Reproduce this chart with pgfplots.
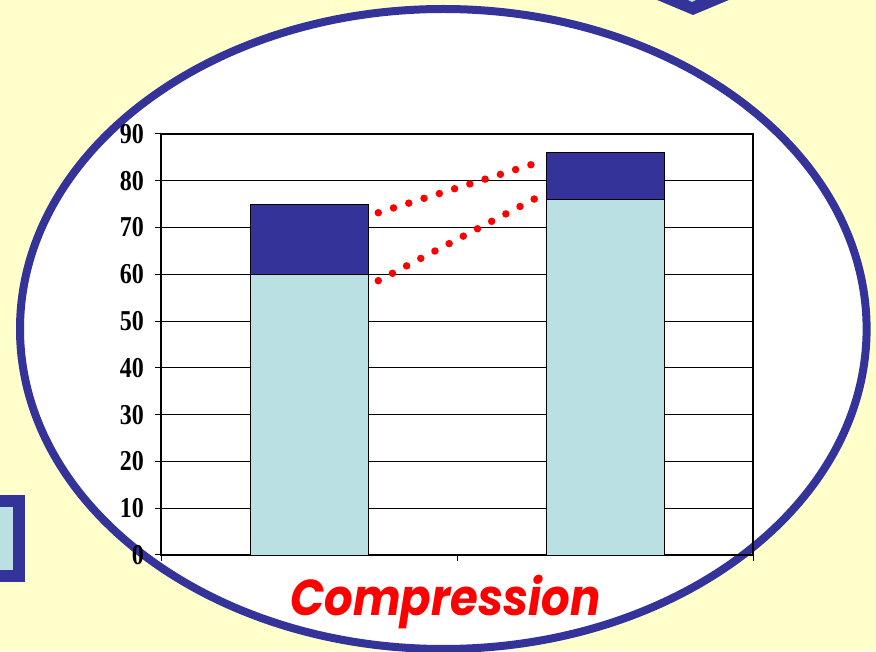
\documentclass[border=0pt]{standalone}
\usepackage{fontspec}
\setmainfont{Liberation Serif}
\newfontfamily\comic{Poppins}
\usepackage{pgfplots}
\pgfplotsset{compat=1.18}
\definecolor{bg}{HTML}{FFFFCC}
\definecolor{dkblue}{HTML}{333399}
\definecolor{ltblue}{RGB}{187,224,227}
\begin{document}
\begin{tikzpicture}
\path[use as bounding box] (0pt,0pt) rectangle (876pt,651pt);
\begin{scope}[x=1pt,y=1pt]
\clip (0,0) rectangle (876,651);
\fill[bg] (0,0) rectangle (876,651);
\filldraw[fill=ltblue, draw=dkblue, line width=12pt] (-60,150) rectangle (19,75);
\fill[dkblue] (650,654) -- (693,636) -- (736,654) -- cycle;
\fill[ltblue] (682,654) -- (692,649) -- (702,654) -- cycle;
\filldraw[fill=white, draw=dkblue, line width=8pt] (443.3,322) ellipse [x radius=423.3, y radius=320];
\end{scope}
\begin{axis}[at={(161pt,96pt)}, anchor=south west, scale only axis,
  width=592pt, height=421pt,
  xmin=-0.5, xmax=1.5, ymin=0, ymax=90,
  ytick={0,10,...,90}, xtick={-0.5,0.5,1.5}, xticklabels={},
  ymajorgrids, grid style={black, line width=1.2pt},
  axis line style={black, line width=1.2pt},
  tick style={black, line width=1pt},
  xtick pos=bottom, ytick pos=left, tick align=outside,
  major tick length=6pt,
  /pgf/number format/assume math mode=true,
  yticklabel style={anchor=east, inner sep=0pt, xshift=-11pt, font=\fontsize{24}{24}\selectfont\bfseries},
  yticklabel={\scalebox{1}[1.2]{\pgfmathprintnumber{\tick}}},
  clip=false]
\addplot[ybar, bar width=118pt, bar shift=0pt, fill=dkblue, draw=black, line width=0.8pt] coordinates {(0,75) (1,86)};
\addplot[ybar, bar width=118pt, bar shift=0pt, fill=ltblue, draw=black, line width=0.8pt] coordinates {(0,60) (1,76)};
\addplot[red, line width=7.5pt, line cap=round, dash pattern=on 0pt off 16pt] coordinates {(0.234,73.17) (0.75,83.43)};
\addplot[red, line width=7.5pt, line cap=round, dash pattern=on 0pt off 16pt] coordinates {(0.234,58.64) (0.761,76.1)};
\end{axis}
\node[anchor=base, text=red, inner sep=0pt] at (445.5pt,35pt) {\scalebox{1}[1.12]{\comic\bfseries\itshape\fontsize{45}{45}\selectfont Compression}};
\end{tikzpicture}
\end{document}
